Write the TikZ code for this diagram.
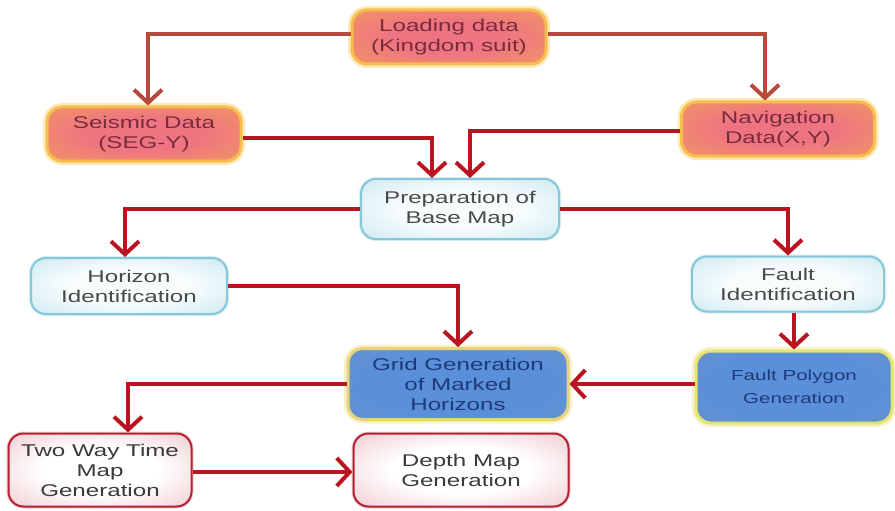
\documentclass[tikz,border=0pt]{standalone}
\usepackage{fontspec}
\setmainfont{Liberation Sans}[FakeStretch=1.42]
\usetikzlibrary{arrows.meta}

% palette
\definecolor{oCore}{HTML}{EE7482}
\definecolor{oEdge}{HTML}{F3A455}
\definecolor{oRim}{HTML}{F7BE4E}
\definecolor{oHalo}{HTML}{FCE9B8}
\definecolor{oText}{HTML}{7A2C3C}
\definecolor{cCore}{HTML}{F7FCFD}
\definecolor{cEdge}{HTML}{B8E0EB}
\definecolor{cRim}{HTML}{86C7DA}
\definecolor{cHalo}{HTML}{D9EEF4}
\definecolor{cText}{HTML}{4A4A4A}
\definecolor{bCore}{HTML}{5A8FDA}
\definecolor{bEdge}{HTML}{7096C0}
\definecolor{bRim}{HTML}{E6D27E}
\definecolor{bRimG}{HTML}{E4E470}
\definecolor{bHalo}{HTML}{F8F0C4}
\definecolor{bText}{HTML}{1E3A78}
\definecolor{rCore}{HTML}{FFFFFF}
\definecolor{rEdge}{HTML}{E9B3BB}
\definecolor{rRim}{HTML}{B52233}
\definecolor{rHalo}{HTML}{EFCDD2}
\definecolor{rText}{HTML}{3A3A3A}
\definecolor{arBrown}{HTML}{B84A3C}
\definecolor{arRed}{HTML}{BA1420}

\pgfdeclareradialshading{glowO}{\pgfpoint{0bp}{0bp}}{color(0bp)=(oCore); color(14bp)=(oCore); color(46bp)=(oEdge); color(60bp)=(oEdge)}
\pgfdeclareradialshading{glowC}{\pgfpoint{0bp}{0bp}}{color(0bp)=(cCore); color(16bp)=(cCore); color(46bp)=(cEdge); color(60bp)=(cEdge)}
\pgfdeclareradialshading{glowB}{\pgfpoint{0bp}{0bp}}{color(0bp)=(bCore); color(22bp)=(bCore); color(48bp)=(bEdge); color(60bp)=(bEdge)}
\pgfdeclareradialshading{glowR}{\pgfpoint{0bp}{0bp}}{color(0bp)=(rCore); color(16bp)=(rCore); color(46bp)=(rEdge); color(60bp)=(rEdge)}

\tikzset{
  box/.style={rounded corners=15pt, align=center, inner sep=2pt,
    font=\fontsize{17}{20}\selectfont},
  srcbox/.style={box, shading=glowO, draw=oRim, line width=3pt,
    preaction={draw=oHalo, line width=8pt}, text=oText},
  stepbox/.style={box, shading=glowC, draw=cRim, line width=2pt,
    preaction={draw=cHalo, line width=4pt}, text=cText},
  gridbox/.style={box, shading=glowB, draw=bRim, line width=3pt,
    preaction={draw=bHalo, line width=8pt}, text=bText},
  mapbox/.style={box, shading=glowR, draw=rRim, line width=2pt,
    preaction={draw=rHalo, line width=4pt}, text=rText},
  flow/.style={draw=arRed, line width=4pt,
    -{Straight Barb[length=13pt,width=28pt]}},
  flowtop/.style={flow, draw=arBrown}
}

\begin{document}
\begin{tikzpicture}[x=1pt,y=-1pt]
\useasboundingbox (0,0) rectangle (895,511);

% boxes
\node[srcbox, minimum width=194pt, minimum height=54pt] (load) at (449,37) {Loading data\\(Kingdom suit)};
\node[srcbox, minimum width=194pt, minimum height=54pt] (seis) at (144,134) {Seismic Data\\(SEG-Y)};
\node[srcbox, minimum width=193pt, minimum height=54pt] (nav) at (778,129) {Navigation\\Data(X,Y)};
\node[stepbox, minimum width=198pt, minimum height=60pt] (prep) at (460,209) {Preparation of\\Base Map};
\node[stepbox, minimum width=196pt, minimum height=56pt] (hor) at (129,286) {Horizon\\Identification};
\node[stepbox, minimum width=192pt, minimum height=55pt] (fault) at (788,284) {Fault\\Identification};
\node[gridbox, minimum width=220pt, minimum height=71pt] (grid) at (458,384) {Grid Generation\\of Marked\\Horizons};
\node[gridbox, draw=bRimG, minimum width=196pt, minimum height=72pt,
      font=\fontsize{14.5}{23}\selectfont] (fpoly) at (794,387) {Fault Polygon\\Generation};
\node[mapbox, minimum width=183pt, minimum height=73pt] (twt) at (100,470) {Two Way Time\\Map\\Generation};
\node[mapbox, minimum width=215pt, minimum height=73pt] (depth) at (461,470) {Depth Map\\Generation};

% connectors
\draw[flowtop] ([yshift=3pt]load.west) -| ([xshift=4pt]seis.north);
\draw[flowtop] ([yshift=3pt]load.east) -| ([xshift=-13pt]nav.north);
\draw[flow] ([yshift=-4pt]seis.east) -| ([xshift=-28pt]prep.north);
\draw[flow] ([yshift=-2pt]nav.west) -| ([xshift=10pt]prep.north);
\draw[flow] (prep.west) -| ([xshift=-4pt]hor.north);
\draw[flow] (prep.east) -| (fault.north);
\draw[flow] (hor.east) -| (grid.north);
\draw[flow] (fault.south -| fpoly.north) -- (fpoly.north);
\draw[flow] (grid.east -| fpoly.west) -- (grid.east);
\draw[flow] (grid.west) -| ([xshift=28pt]twt.north);
\draw[flow] ([yshift=-2pt]twt.east) -- ([yshift=-2pt]depth.west);
\end{tikzpicture}
\end{document}
